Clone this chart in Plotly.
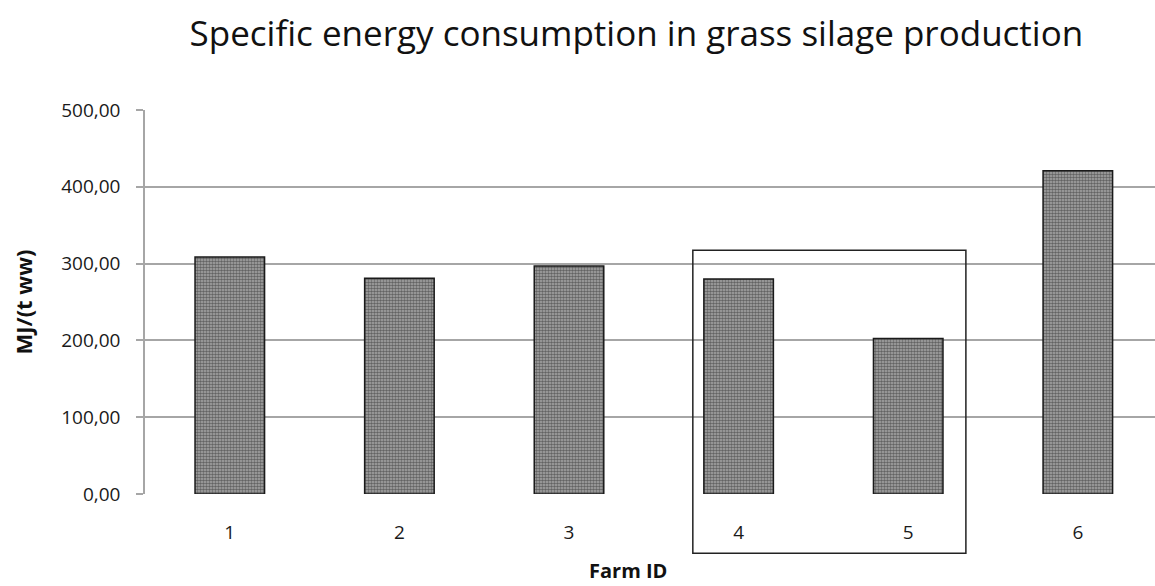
import plotly.graph_objects as go

farms = ["1", "2", "3", "4", "5", "6"]
energy = [308.5, 281.0, 297.0, 280.0, 202.5, 421.0]
y_ticks = [0, 100, 200, 300, 400, 500]

fig = go.Figure()
fig.add_trace(go.Bar(
    x=farms,
    y=energy,
    marker=dict(
        color="#808080",
        line=dict(color="#1a1a1a", width=1.5),
        pattern=dict(shape=".", fgcolor="#1e1e1e", bgcolor="#a8a8a8",
                     size=3, solidity=0.55),
    ),
    width=0.41,
    showlegend=False,
))

# frame around farms 4 and 5, reaching below the axis
fig.add_shape(type="rect", xref="x", yref="paper",
              x0=2.73, x1=4.34, y0=-0.154, y1=0.635,
              line=dict(color="#222222", width=1.5), fillcolor="rgba(0,0,0,0)")

# x-axis caption
fig.add_annotation(text="<b>Farm ID</b>", xref="paper", yref="paper",
                   x=0.478, y=-0.199, xanchor="center", yanchor="middle",
                   showarrow=False, font=dict(size=20, color="#111111"))

fig.update_layout(
    width=1155, height=586,
    margin=dict(l=145, r=0, t=110, b=92),
    paper_bgcolor="white", plot_bgcolor="white",
    separators=",.",
    font=dict(family="Open Sans", color="#1a1a1a"),
    title=dict(text="Specific energy consumption in grass silage production",
               x=0.551, xanchor="center", y=0.943, yanchor="middle",
               font=dict(size=35, color="#111111", family="Open Sans")),
    xaxis=dict(
        type="category", range=[-0.5, 5.455],
        showgrid=False, showline=False, ticks="",
        ticklabelstandoff=25,
        tickfont=dict(size=19),
    ),
    yaxis=dict(
        range=[0, 500], tickvals=y_ticks, tickformat=".2f",
        showgrid=True, gridcolor="#a6a6a6", gridwidth=1.5,
        showline=True, linecolor="#a6a6a6", linewidth=1.5,
        ticks="outside", ticklen=7, tickcolor="#a6a6a6", tickwidth=1.5,
        ticklabelstandoff=12,
        tickfont=dict(size=19),
        zeroline=False,
        title=dict(text="<b>MJ/(t ww)</b>", standoff=23,
                   font=dict(size=22, color="#111111")),
    ),
)

fig.write_html("out.html")
